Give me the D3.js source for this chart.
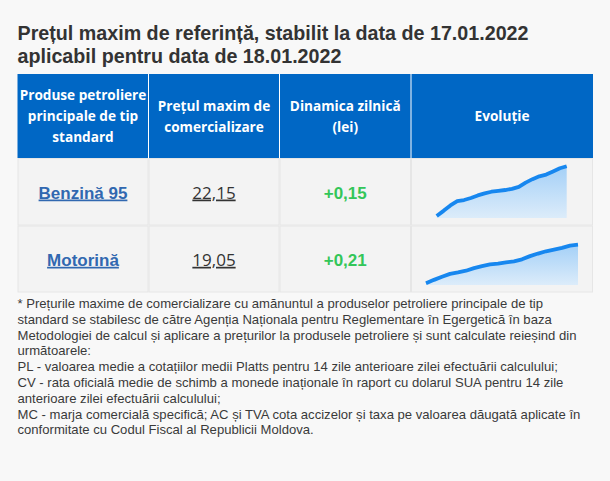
<!DOCTYPE html>
<html>
<head>
<meta charset="utf-8">
<script src="https://cdn.jsdelivr.net/npm/d3@7"></script>
<style>
  html, body { margin: 0; padding: 0; background: #f8f8f8; }
  svg { display: block; }
</style>
</head>
<body>
<div id="container"></div>
<script>
// Data
const titleLines = ["Prețul maxim de referință, stabilit la data de 17.01.2022",
    "aplicabil pentru data de 18.01.2022"];
const headers = [
    ["Produse petroliere", "principale de tip", "standard"],
    ["Prețul maxim de", "comercializare"],
    ["Dinamica zilnică", "(lei)"],
    ["Evoluție"]
];
const products = ["Benzină 95", "Motorină"];
const prices = ["22,15", "19,05"];
const changes = ["+0,15", "+0,21"];
// evolution of the price (lei)
const benzinaSeries = [20.41, 20.59, 20.78, 20.93, 20.97, 21.04, 21.13, 21.20, 21.26, 21.29,
    21.32, 21.36, 21.43, 21.58, 21.70, 21.80, 21.86, 21.97, 22.08, 22.15];
const motorinaSeries = [17.70, 17.82, 17.93, 18.03, 18.08, 18.14, 18.23, 18.30, 18.36, 18.39,
    18.43, 18.47, 18.54, 18.65, 18.74, 18.82, 18.88, 18.94, 19.02, 19.05];
const footnoteLines = [
    "* Prețurile maxime de comercializare cu amănuntul a produselor petroliere principale de tip",
    "standard se stabilesc de către Agenția Naționala pentru Reglementare în Egergetică în baza",
    "Metodologiei de calcul și aplicare a prețurilor la produsele petroliere și sunt calculate reieșind din",
    "următoarele:",
    "PL - valoarea medie a cotațiilor medii Platts pentru 14 zile anterioare zilei efectuării calculului;",
    "CV - rata oficială medie de schimb a monede inaționale în raport cu dolarul SUA pentru 14 zile",
    "anterioare zilei efectuării calculului;",
    "MC - marja comercială specifică; AC și TVA cota accizelor și taxa pe valoarea dăugată aplicate în",
    "conformitate cu Codul Fiscal al Republicii Moldova."
];

const width = 610, height = 481;
const colEdges = [17.5, 148.5, 279.5, 411, 593];
const headTop = 74, headBottom = 158;
const rowEdges = [158, 225.5, 292.5];
const blue = "#0067c5";

// sparkline boxes inside the Evolutie cells
const sparkBoxes = [
    {x0: 436.7, x1: 566.7, top: 166.3, bottom: 216, base: 218},
    {x0: 426, x1: 578, top: 244.7, bottom: 283.3, base: 285}
];
const series = [benzinaSeries, motorinaSeries];

const svg = d3.select("#container").append("svg")
    .attr("width", width)
    .attr("height", height);

// Title
svg.append("g").selectAll("text")
    .data(titleLines)
    .join("text")
    .attr("x", 17.5)
    .attr("y", (d, i) => 40 + i * 23)
    .attr("font-family", "'Liberation Sans', Arial, sans-serif")
    .attr("font-weight", "bold")
    .attr("font-size", 19.7)
    .attr("fill", "#333")
    .text(d => d);

// Header
const head = svg.append("g");
head.append("rect")
    .attr("x", colEdges[0]).attr("y", headTop)
    .attr("width", colEdges[4] - colEdges[0])
    .attr("height", headBottom - headTop)
    .attr("fill", blue);

head.selectAll("line.sep")
    .data(colEdges.slice(1, 4))
    .join("line")
    .attr("class", "sep")
    .attr("x1", d => d).attr("x2", d => d)
    .attr("y1", headTop).attr("y2", headBottom)
    .attr("stroke", "#fff")
    .attr("stroke-width", 1);

headers.forEach((lines, c) => {
    const cx = (colEdges[c] + colEdges[c + 1]) / 2;
    head.append("g").selectAll("text")
        .data(lines)
        .join("text")
        .attr("x", cx)
        .attr("y", (d, i) => 121 + (i - (lines.length - 1) / 2) * 21)
        .attr("text-anchor", "middle")
        .attr("font-family", "'Open Sans', sans-serif")
        .attr("font-weight", "bold")
        .attr("font-size", 13.6)
        .attr("fill", "#fff")
        .text(d => d);
});

// Body rows
const body = svg.append("g");
products.forEach((p, r) => {
    const y0 = rowEdges[r], y1 = rowEdges[r + 1];
    for (let c = 0; c < 4; ++c) {
        body.append("rect")
            .attr("x", colEdges[c] + 0.5).attr("y", y0 + 0.5)
            .attr("width", colEdges[c + 1] - colEdges[c] - 1)
            .attr("height", y1 - y0 - 1)
            .attr("fill", "#f3f3f3")
            .attr("stroke", "#e6e6e6")
            .attr("stroke-width", 1);
    }
    const base = (y0 + y1) / 2 + 6.8;
    const mid = c => (colEdges[c] + colEdges[c + 1]) / 2;

    body.append("text")
        .attr("x", mid(0)).attr("y", base)
        .attr("text-anchor", "middle")
        .attr("font-family", "'Liberation Sans', Arial, sans-serif")
        .attr("font-weight", "bold")
        .attr("font-size", 17)
        .attr("fill", "#3168b0")
        .style("text-decoration", "underline")
        .text(p);

    body.append("text")
        .attr("x", mid(1)).attr("y", base)
        .attr("text-anchor", "middle")
        .attr("font-family", "'Open Sans', sans-serif")
        .attr("font-size", 17)
        .attr("fill", "#333")
        .style("text-decoration", "underline")
        .text(prices[r]);

    body.append("text")
        .attr("x", mid(2)).attr("y", base)
        .attr("text-anchor", "middle")
        .attr("font-family", "'Liberation Sans', Arial, sans-serif")
        .attr("font-weight", "bold")
        .attr("font-size", 17)
        .attr("fill", "#33c659")
        .text(changes[r]);
});

// Sparklines
const defs = svg.append("defs");
const grad = defs.append("linearGradient")
    .attr("id", "spark-fill")
    .attr("x1", 0).attr("y1", 0).attr("x2", 0).attr("y2", 1);
grad.append("stop").attr("offset", "0%").attr("stop-color", "#a4d0f7");
grad.append("stop").attr("offset", "100%").attr("stop-color", "#dcecfa");

series.forEach((values, r) => {
    const box = sparkBoxes[r];
    const x = d3.scaleLinear()
        .domain([0, values.length - 1])
        .range([box.x0, box.x1]);
    const y = d3.scaleLinear()
        .domain(d3.extent(values))
        .range([box.bottom, box.top]);

    const area = d3.area()
        .x((d, i) => x(i))
        .y0(box.base)
        .y1(d => y(d));
    const line = d3.line()
        .x((d, i) => x(i))
        .y(d => y(d));

    svg.append("path")
        .datum(values)
        .attr("fill", "url(#spark-fill)")
        .attr("d", area);
    svg.append("path")
        .datum(values)
        .attr("fill", "none")
        .attr("stroke", "#1787ef")
        .attr("stroke-width", 3.8)
        .attr("stroke-linejoin", "round")
        .attr("d", line);
});

// Footnote
svg.append("g").selectAll("text")
    .data(footnoteLines)
    .join("text")
    .attr("x", 17.5)
    .attr("y", (d, i) => 308 + i * 15.8)
    .attr("font-family", "'Liberation Sans', Arial, sans-serif")
    .attr("font-size", 13.1)
    .attr("fill", "#3a3a3a")
    .text(d => d);
</script>
</body>
</html>
